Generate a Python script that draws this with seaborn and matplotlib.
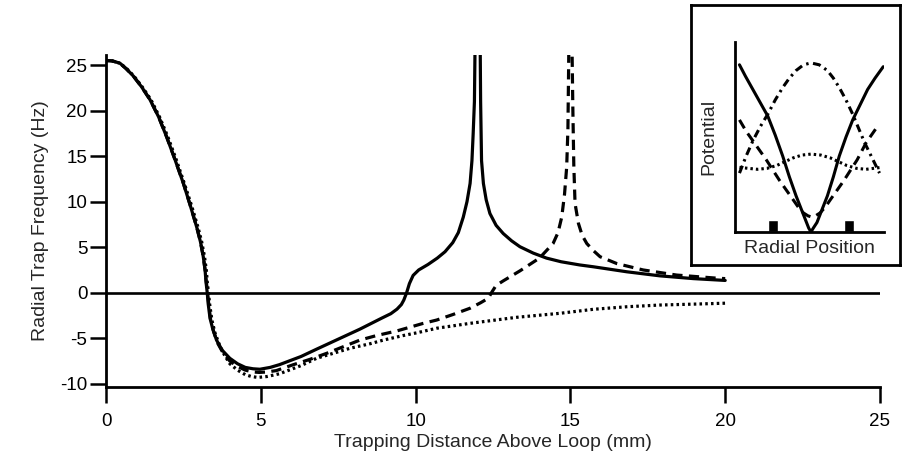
import matplotlib
matplotlib.use("Agg")
import matplotlib.pyplot as plt
import seaborn as sns
import pandas as pd

# Radial trap frequency vs. trapping distance for three loop configurations
solid_x = [0.0, 0.2, 0.45, 0.65, 0.88, 1.15, 1.42, 1.7, 1.96, 2.23, 2.5, 2.72, 2.93, 3.05, 3.14,
           3.2, 3.23, 3.27, 3.3, 3.36, 3.45, 3.57, 3.75, 4.0, 4.25, 4.5, 4.75, 4.97, 5.3,
           5.6, 6.3, 6.8, 7.5, 8.2, 8.9, 9.2, 9.4, 9.54, 9.62, 9.71, 9.8, 9.92, 10.1, 10.4,
           10.7, 10.95, 11.2, 11.38, 11.54, 11.66, 11.76, 11.82, 11.86, 11.9, 11.93,
           12.08, 12.1, 12.13, 12.19, 12.28, 12.4, 12.6, 12.83, 13.1, 13.37, 13.8, 14.23,
           14.7, 15.3, 15.74, 16.82, 17.9, 18.97, 20.0]
solid_y = [25.5, 25.45, 25.2, 24.6, 23.8, 22.6, 21.2, 19.3, 17.1, 14.6, 12.0, 9.6, 7.2, 5.6, 4.0,
           2.5, 1.2, 0.0, -1.2, -2.8, -4.0, -5.2, -6.3, -7.2, -7.8, -8.2, -8.35, -8.4, -8.2,
           -7.9, -7.0, -6.2, -5.1, -4.0, -2.8, -2.3, -1.8, -1.3, -0.8, 0.0, 1.0, 1.9, 2.5, 3.1,
           3.8, 4.5, 5.5, 6.6, 8.3, 10.0, 12.0, 14.5, 17.5, 21.0, 30.0,
           30.0, 21.0, 14.5, 12.0, 10.2, 8.7, 7.4, 6.5, 5.7, 5.05, 4.35, 3.8,
           3.4, 3.05, 2.85, 2.3, 1.85, 1.55, 1.35]

dashed_x = [0.0, 0.2, 0.45, 0.65, 0.88, 1.15, 1.42, 1.7, 1.96, 2.23, 2.5, 2.72, 2.93, 3.05, 3.14,
            3.2, 3.24, 3.28, 3.32, 3.38, 3.48, 3.6, 3.78, 4.0, 4.25, 4.5, 4.75, 4.95, 5.2,
            5.5, 6.05, 6.6, 7.13, 8.2, 8.74, 9.39, 10.25, 10.68, 11.2, 11.76, 12.1, 12.35,
            12.45, 12.6, 12.83, 13.37, 14.0, 14.44, 14.6, 14.72, 14.81, 14.88, 14.92, 14.96,
            15.04, 15.08, 15.11, 15.15, 15.26, 15.38, 15.53, 15.75, 15.96, 16.5, 17.35, 18.43,
            19.72, 20.0]
dashed_y = [25.5, 25.45, 25.2, 24.6, 23.8, 22.6, 21.2, 19.3, 17.1, 14.6, 12.0, 9.6, 7.2, 5.6, 4.0,
            2.5, 1.2, 0.0, -1.3, -3.0, -4.3, -5.5, -6.6, -7.5, -8.1, -8.5, -8.7, -8.75, -8.7,
            -8.55, -7.9, -7.3, -6.65, -5.2, -4.7, -4.2, -3.36, -3.0, -2.4, -1.7, -1.1, -0.6,
            0.0, 0.8, 1.3, 2.4, 3.8, 5.4, 6.6, 8.3, 10.8, 13.8, 18.0, 30.0,
            30.0, 20.0, 14.0, 9.8, 7.6, 6.3, 5.4, 4.6, 3.95, 3.2, 2.5, 1.94,
            1.6, 1.55]

dotted_x = [0.0, 0.2, 0.45, 0.67, 0.9, 1.17, 1.45, 1.73, 2.0, 2.27, 2.53, 2.76, 2.97, 3.09, 3.18,
            3.24, 3.27, 3.31, 3.35, 3.42, 3.52, 3.65, 3.82, 4.0, 4.25, 4.5, 4.7, 4.9, 5.2,
            5.6, 6.3, 6.8, 7.88, 8.53, 8.96, 9.6, 10.04, 10.68, 11.76, 13.26, 14.66, 15.74,
            16.82, 17.9, 19.0, 20.0]
dotted_y = [25.5, 25.45, 25.2, 24.6, 23.8, 22.6, 21.2, 19.3, 17.1, 14.6, 12.0, 9.6, 7.2, 5.6, 4.0,
            2.5, 1.2, 0.0, -1.3, -3.0, -4.4, -5.6, -6.8, -7.8, -8.5, -9.0, -9.2, -9.3, -9.2,
            -8.9, -8.0, -7.2, -6.1, -5.6, -5.2, -4.7, -4.4, -3.9, -3.36, -2.7, -2.26, -1.82,
            -1.54, -1.35, -1.25, -1.15]

x_ticks = [0, 5, 10, 15, 20, 25]
y_ticks = [-10, -5, 0, 5, 10, 15, 20, 25]

# Schematic potentials across the radial direction (inset)
pot_u = [0.03, 0.07, 0.12, 0.17, 0.22, 0.27, 0.32, 0.365, 0.41, 0.445, 0.48, 0.495, 0.51,
         0.525, 0.55, 0.585, 0.62, 0.66, 0.70, 0.745, 0.79, 0.84, 0.89, 0.94, 0.995]
pot_solid = [0.88, 0.82, 0.75, 0.68, 0.61, 0.51, 0.40, 0.29, 0.19, 0.12, 0.05, 0.02, 0.0,
             0.02, 0.05, 0.12, 0.19, 0.29, 0.40, 0.50, 0.59, 0.67, 0.75, 0.81, 0.87]

dd_u = [0.03, 0.075, 0.12, 0.17, 0.22, 0.27, 0.32, 0.365, 0.41, 0.46, 0.51, 0.565, 0.62,
        0.66, 0.70, 0.745, 0.79, 0.83, 0.87, 0.92, 0.97]
pot_dashdot = [0.31, 0.40, 0.48, 0.555, 0.62, 0.695, 0.76, 0.81, 0.85, 0.88, 0.89, 0.88, 0.85,
               0.81, 0.76, 0.695, 0.62, 0.545, 0.47, 0.39, 0.31]

da_u = [0.03, 0.075, 0.12, 0.165, 0.21, 0.255, 0.30, 0.345, 0.39, 0.43, 0.46, 0.49, 0.51,
        0.54, 0.57, 0.605, 0.64, 0.685, 0.73, 0.775, 0.82, 0.85, 0.88, 0.92, 0.96]
pot_dashed = [0.59, 0.53, 0.48, 0.43, 0.38, 0.325, 0.27, 0.22, 0.17, 0.125, 0.10, 0.085, 0.08,
              0.085, 0.10, 0.13, 0.17, 0.22, 0.27, 0.325, 0.38, 0.425, 0.47, 0.515, 0.56]

do_u = [0.03, 0.09, 0.15, 0.215, 0.28, 0.335, 0.39, 0.45, 0.51, 0.575, 0.64, 0.695, 0.75,
        0.815, 0.88, 0.93, 0.98]
pot_dotted = [0.34, 0.335, 0.33, 0.335, 0.35, 0.37, 0.39, 0.405, 0.41, 0.405, 0.39, 0.37, 0.35,
              0.335, 0.33, 0.335, 0.34]

coil_u = [0.255, 0.765]
coil_h = [0.063, 0.063]

sns.set_theme(style="ticks")
plt.rcParams["font.family"] = ["Liberation Sans", "DejaVu Sans"]
plt.rcParams["axes.linewidth"] = 2.0

W, H = 902, 466
fig = plt.figure(figsize=(W / 100, H / 100), dpi=100)
fig.patch.set_facecolor("white")

def frac(x0, y0, x1, y1):
    return [x0 / W, 1 - y1 / H, (x1 - x0) / W, (y1 - y0) / H]

ax = fig.add_axes(frac(106, 55, 880, 387))
ax.set_facecolor("white")

lw = 2.3
df_s = pd.DataFrame({"x": solid_x, "y": solid_y})
df_d = pd.DataFrame({"x": dashed_x, "y": dashed_y})
df_o = pd.DataFrame({"x": dotted_x, "y": dotted_y})
sns.lineplot(data=df_o, x="x", y="y", ax=ax, sort=False, estimator=None, color="black",
             linewidth=lw, linestyle=(0, (0.8, 1.0)))
sns.lineplot(data=df_d, x="x", y="y", ax=ax, sort=False, estimator=None, color="black",
             linewidth=lw, linestyle=(0, (3.2, 2.0)))
sns.lineplot(data=df_s, x="x", y="y", ax=ax, sort=False, estimator=None, color="black",
             linewidth=lw, linestyle="-")
ax.axhline(0, color="black", linewidth=1.9, zorder=1)

ax.set_xlim(0, 25)
ax.set_ylim(-10.35, 26.1)
ax.set_xticks(x_ticks)
ax.set_yticks(y_ticks)
ax.set_xticklabels([str(t) for t in x_ticks])
ax.set_yticklabels([str(t) for t in y_ticks])
sns.despine(ax=ax)
ax.tick_params(axis="both", direction="out", length=11.5, width=1.8, labelsize=13.5,
               colors="black")
ax.tick_params(axis="y", pad=2)
ax.tick_params(axis="x", pad=7)
ax.set_xlabel("Trapping Distance Above Loop (mm)", fontsize=14, labelpad=3)
ax.set_ylabel("Radial Trap Frequency (Hz)", fontsize=14, labelpad=8)
for s in ax.spines.values():
    s.set_color("black")

# Inset frame
box = fig.add_axes(frac(691, 5, 900, 265))
box.set_facecolor("white")
box.set_xticks([])
box.set_yticks([])
for s in box.spines.values():
    s.set_linewidth(2.0)
    s.set_color("black")

axi = fig.add_axes(frac(735, 42, 884, 232))
axi.set_facecolor("white")
axi.set_xlim(0, 1)
axi.set_ylim(0, 1)
ilw = 2.2
sns.lineplot(x=pot_u, y=pot_solid, ax=axi, sort=False, estimator=None, color="black",
             linewidth=ilw, linestyle="-")
sns.lineplot(x=dd_u, y=pot_dashdot, ax=axi, sort=False, estimator=None, color="black",
             linewidth=ilw, linestyle=(0, (2.6, 1.5, 0.8, 1.5)))
sns.lineplot(x=da_u, y=pot_dashed, ax=axi, sort=False, estimator=None, color="black",
             linewidth=ilw, linestyle=(0, (3.2, 2.0)))
sns.lineplot(x=do_u, y=pot_dotted, ax=axi, sort=False, estimator=None, color="black",
             linewidth=ilw, linestyle=(0, (0.8, 1.0)))
axi.bar(coil_u, coil_h, width=0.067, color="black", align="center")
axi.set_xticks([])
axi.set_yticks([])
sns.despine(ax=axi)
for s in ("left", "bottom"):
    axi.spines[s].set_linewidth(2.0)
    axi.spines[s].set_color("black")
axi.set_xlabel("Radial Position", fontsize=14, labelpad=6)
axi.set_ylabel("Potential", fontsize=14, labelpad=13)

fig.savefig("out.png", dpi=100)
